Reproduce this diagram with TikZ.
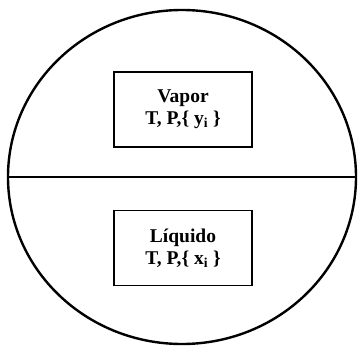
\documentclass[tikz,border=0pt]{standalone}
\usepackage{fontspec}
\setmainfont{Liberation Serif}
\usetikzlibrary{shapes.geometric,positioning}

\begin{document}
\begin{tikzpicture}[x=1pt, y=1pt, node distance=62pt,
    phase/.style={draw, line width=1.6pt, minimum width=138pt, minimum height=75pt,
      inner sep=0pt, align=center, font=\bfseries\fontsize{19.5}{22}\selectfont}]
  \useasboundingbox (-182,-169) rectangle (176,177);
  \node[ellipse, draw, line width=2.4pt, minimum width=348pt, minimum height=334pt,
    inner sep=0pt] (vessel) at (0,0) {};
  \node[phase] (vap) at (1,67.5) {Vapor\\T, P,\{ y\textsubscript{i} \}};
  \node[phase] (liq) [below=of vap] {Líquido\\T, P,\{ x\textsubscript{i} \}};
  \draw[line width=2pt] (vessel.west) -- (vessel.east);
\end{tikzpicture}
\end{document}
